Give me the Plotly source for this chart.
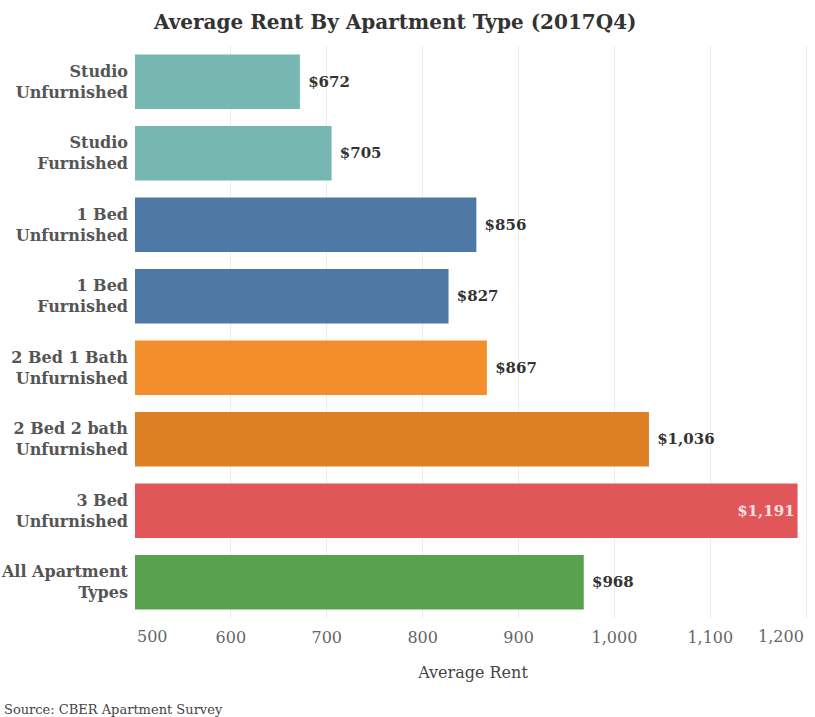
import plotly.graph_objects as go

categories = ["Studio<br>Unfurnished", "Studio<br>Furnished", "1 Bed<br>Unfurnished", "1 Bed<br>Furnished",
              "2 Bed 1 Bath<br>Unfurnished", "2 Bed 2 bath<br>Unfurnished", "3 Bed<br>Unfurnished",
              "All Apartment<br>Types"]
rents = [672, 705, 856, 827, 867, 1036, 1191, 968]
bar_colors = ["#76b7b2", "#76b7b2", "#4e79a7", "#4e79a7", "#f28e2b", "#dd7f24", "#e15759", "#59a14f"]
x_ticks = [500, 600, 700, 800, 900, 1000, 1100, 1200]
x_tick_text = ["500", "600", "700", "800", "900", "1,000", "1,100", "1,200"]

FONT = "DejaVu Serif"
is_max = [v == max(rents) for v in rents]
labels = [("${:,}" if m else " ${:,}").format(v) for v, m in zip(rents, is_max)]
positions = ["inside" if m else "outside" for m in is_max]
text_colors = ["#f6e2e2" if m else "#333333" for m in is_max]

fig = go.Figure(go.Bar(
    x=rents, y=categories, orientation="h",
    marker=dict(color=bar_colors, line=dict(width=0)),
    text=labels, textposition=positions, insidetextanchor="end",
    textfont=dict(family=FONT, size=15, color=text_colors, weight="bold"),
    constraintext="none", cliponaxis=False, hoverinfo="skip",
))

fig.update_layout(
    width=815, height=717,
    margin=dict(l=135, r=4, t=46, b=99, autoexpand=False),
    plot_bgcolor="white", paper_bgcolor="white",
    bargap=0.24,
    showlegend=False,
    xaxis=dict(range=[500, 1205], tickvals=x_ticks, automargin=False,
               ticktext=[""] + x_tick_text[1:-1] + [""],
               showgrid=True, gridcolor="#ececec", gridwidth=1, zeroline=False,
               ticks="", showline=False, ticklabelstandoff=8,
               tickfont=dict(family=FONT, size=16, color="#666666"),
               title=dict(text="Average Rent", font=dict(family=FONT, size=16, color="#444444"), standoff=20)),
    yaxis=dict(autorange="reversed", showgrid=False, zeroline=False, ticks="", showline=False,
               ticklabelstandoff=6, automargin=False,
               tickfont=dict(family=FONT, size=16, color="#555555", weight="bold")),
)

fig.add_annotation(text="Average Rent By Apartment Type (2017Q4)", xref="paper", yref="paper",
                   x=(395 - 135) / 676.0, y=1 + (46 - 22) / 572.0, xanchor="center", yanchor="middle",
                   showarrow=False, font=dict(family=FONT, size=20, color="#333333", weight="bold"))
fig.add_annotation(text=x_tick_text[0], xref="x", yref="paper", x=x_ticks[0], y=-(636 - 618) / 572.0,
                   xanchor="left", yanchor="middle", showarrow=False,
                   font=dict(family=FONT, size=16, color="#666666"))
fig.add_annotation(text=x_tick_text[-1], xref="x", yref="paper", x=x_ticks[-1], y=-(636 - 618) / 572.0,
                   xanchor="right", yanchor="middle", showarrow=False,
                   font=dict(family=FONT, size=16, color="#666666"))
fig.add_annotation(text="Source: CBER Apartment Survey", xref="paper", yref="paper",
                   x=(2 - 135) / 676.0, y=-(709 - 618) / 572.0, xanchor="left", yanchor="middle",
                   showarrow=False, font=dict(family=FONT, size=13, color="#444444"))

fig.write_html("out.html")
